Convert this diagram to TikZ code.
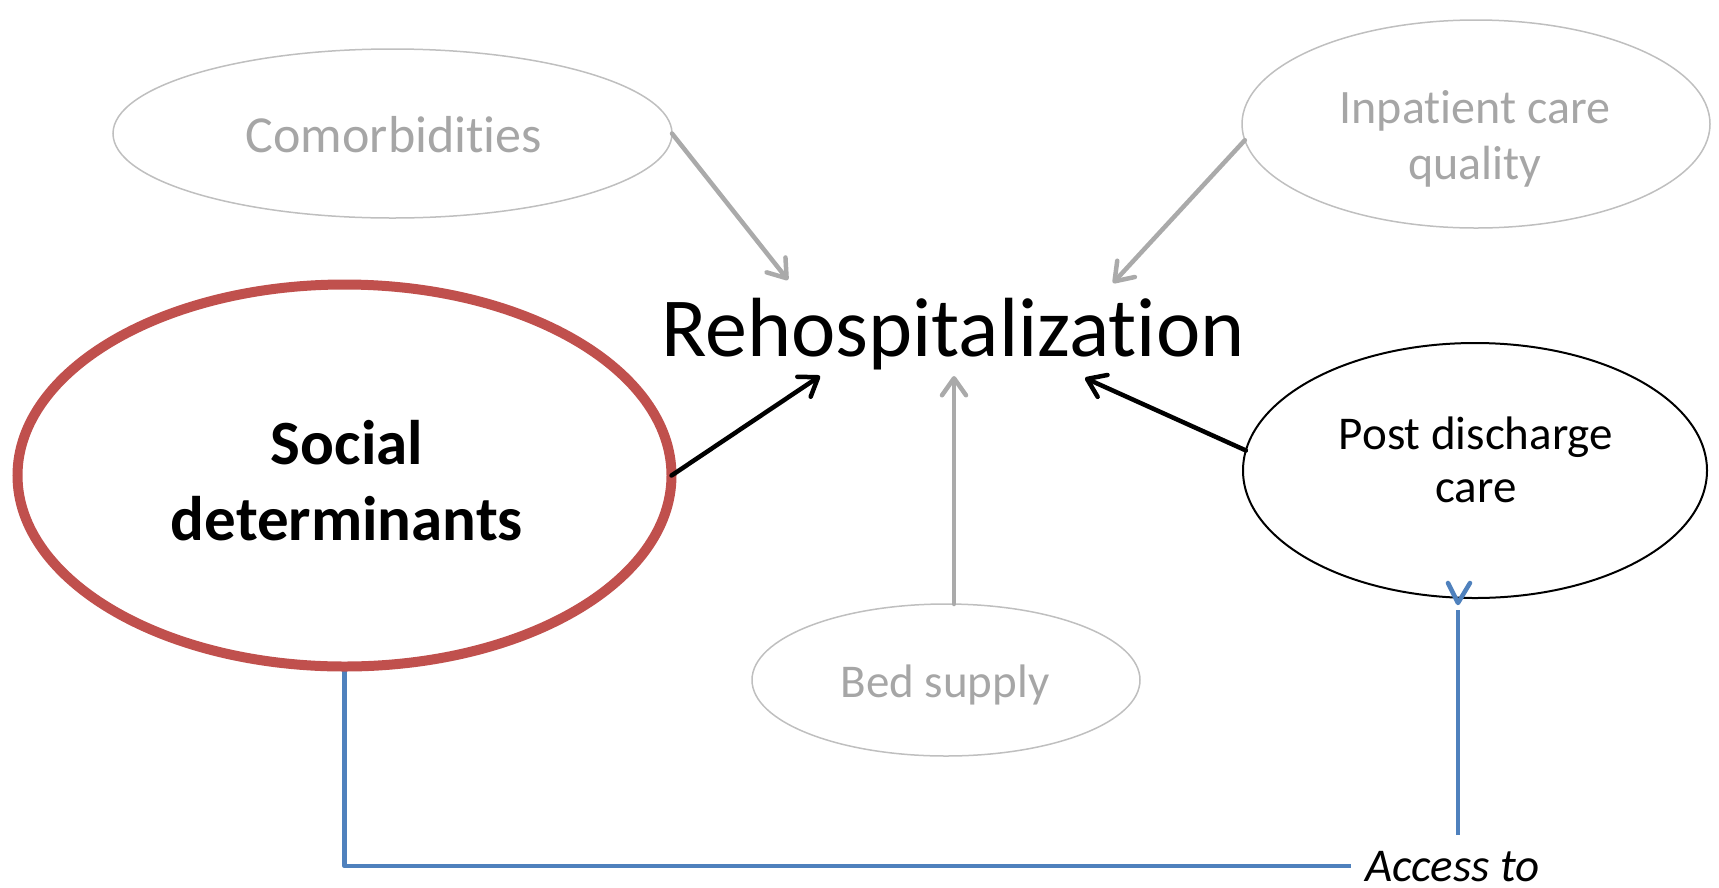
\documentclass[tikz,border=0pt]{standalone}
\usepackage{fontspec}
\setmainfont{Carlito}[Ligatures=NoCommon]
\newcommand{\tiNL}{t\kern0pt i}
\usetikzlibrary{arrows.meta,shapes.geometric}
\definecolor{lgray}{RGB}{191,191,191}
\definecolor{tgray}{RGB}{166,166,166}
\definecolor{agray}{RGB}{170,170,170}
\definecolor{sred}{RGB}{192,80,77}
\definecolor{sblue}{RGB}{79,129,189}
\begin{document}
\begin{tikzpicture}[x=1pt,y=-1pt,
  oval/.style={ellipse, draw, inner sep=0pt, outer sep=0pt},
  grayoval/.style={oval, draw=lgray, line width=1.5pt},
  lbl/.style={anchor=base, inner sep=0pt},
  tip/.style={-{Straight Barb[length=17pt,width=24pt,line cap=round,line join=round]}},
  garrow/.style={draw=agray, line width=4.5pt, line cap=round, tip},
  barrow/.style={draw=black, line width=4.5pt, line cap=round, tip},
  bline/.style={draw=sblue, line width=4.5pt, line join=round}
]
\useasboundingbox (0,0) rectangle (1719,887);

% ellipses
\node[grayoval, minimum width=559, minimum height=169] (com) at (392.5,133.5) {};
\node[grayoval, minimum width=468, minimum height=208] (inp) at (1476,124) {};
\node[grayoval, minimum width=388, minimum height=152] (bed) at (946,680) {};
\node[oval, draw=black, line width=2pt, minimum width=464, minimum height=255] (post) at (1475,470.5) {};

% blue access line
\coordinate (acc) at (1351,866);
\coordinate (acc2) at (1458,835);
\coordinate (vtip) at (1458,603);
\coordinate (vtop) at (1458,610);
\node[oval, draw=none, minimum width=654, minimum height=382] (socb) at (344.5,475.5) {};
\draw[bline] (socb.south) -- (socb.south |- acc) -- (acc);
\draw[bline] (acc2) -- (vtop);
\draw[bline, line cap=round] (vtip) ++(-10,-20) -- (vtip) -- ++(12,-20);

\node[oval, draw=sred, line width=10pt, minimum width=654, minimum height=382] (soc) at (344.5,475.5) {};

% arrows
\coordinate (a1) at (788,280);
\coordinate (a2) at (1113,283);
\coordinate (a3) at (954,376);
\coordinate (a4) at (820,376);
\coordinate (a5) at (1085,378);
\draw[garrow] (com.east) -- (a1);
\draw[garrow] (inp.184) -- (a2);
\draw[garrow] (bed.north -| a3) -- (a3);
\draw[barrow] (soc.east) -- (a4);
\draw[barrow] (post.175) -- (a5);

% texts
\node[lbl, font=\fontsize{84}{100}\selectfont] (reh) at (953,356) {Rehospitaliza\tiNL on};
\node[lbl, font=\bfseries\fontsize{63}{74}\selectfont] (soct1) at (347,464) {Social};
\node[lbl, font=\bfseries\fontsize{63}{74}\selectfont] (soct2) at (347,540) {determinants};
\node[lbl, text=tgray, font=\fontsize{52}{62}\selectfont] (comt) at (394,152) {Comorbidi\tiNL es};
\node[lbl, text=tgray, font=\fontsize{48}{58}\selectfont] (inpt1) at (1475,123) {Inpa\tiNL ent care};
\node[lbl, text=tgray, font=\fontsize{48}{58}\selectfont] (inpt2) at (1475,179) {quality};
\node[lbl, font=\fontsize{47}{56}\selectfont] (postt1) at (1476,449) {Post discharge};
\node[lbl, font=\fontsize{47}{56}\selectfont] (postt2) at (1476,502) {care};
\node[lbl, text=tgray, font=\fontsize{47}{56}\selectfont] (bedt) at (945,697) {Bed supply};
\node[anchor=base west, inner sep=0pt, font=\itshape\fontsize{47}{56}\selectfont] (acct) at (1365,881) {Access to};
\end{tikzpicture}
\end{document}
